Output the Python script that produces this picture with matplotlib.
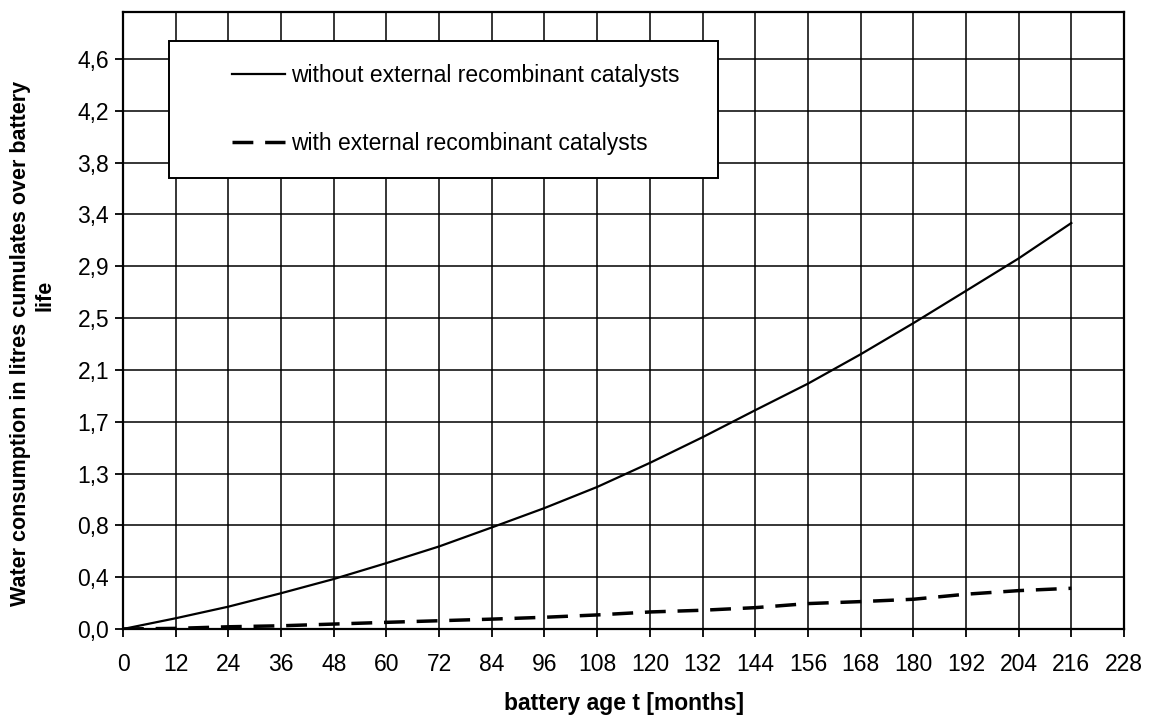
import matplotlib
matplotlib.use("Agg")
import matplotlib.pyplot as plt
from matplotlib.patches import Rectangle

plt.rcParams['font.family'] = ['Liberation Sans', 'DejaVu Sans']

# ---- data ----
months = [0, 12, 24, 36, 48, 60, 72, 84, 96, 108, 120, 132, 144, 156, 168, 180, 192, 204, 216]
without_cat = [0.0, 0.087, 0.181, 0.29, 0.405, 0.534, 0.669, 0.823, 0.98, 1.151, 1.346,
               1.554, 1.773, 1.988, 2.226, 2.478, 2.74, 3.003, 3.29]
with_cat = [0.0, 0.005, 0.018, 0.026, 0.04, 0.054, 0.067, 0.08, 0.095, 0.114, 0.138,
            0.152, 0.173, 0.206, 0.222, 0.241, 0.282, 0.311, 0.33]
x_ticks = list(range(0, 229, 12))
y_ticks = [0.0, 0.42, 0.84, 1.26, 1.68, 2.10, 2.52, 2.94, 3.36, 3.78, 4.20, 4.62]
y_ticklabels = ["0,0", "0,4", "0,8", "1,3", "1,7", "2,1", "2,5", "2,9", "3,4", "3,8", "4,2", "4,6"]
label_without = "without external recombinant catalysts"
label_with = "with external recombinant catalysts"
xlabel = "battery age t [months]"
ylabel_line1 = "Water consumption in litres cumulates over battery"
ylabel_line2 = "life"

fig = plt.figure(figsize=(11.5, 7.17), dpi=100)
ax = fig.add_axes([123/1150, 1 - 629/717, (1124-123)/1150, (629-12)/717])

ax.plot(months, without_cat, color='black', lw=1.6, zorder=3, label=label_without)
ax.plot(months, with_cat, color='black', lw=2.5, dashes=(6, 3.4), zorder=3, label=label_with)

ax.set_xlim(0, 228)
ax.set_ylim(0, 5.0)
ax.set_xticks(x_ticks)
ax.set_xticklabels([str(v) for v in x_ticks])
ax.set_yticks(y_ticks)
ax.set_yticklabels(y_ticklabels)
ax.tick_params(axis='both', direction='out', length=6, width=1.3, colors='black',
               labelsize=16.5)
ax.tick_params(axis='x', pad=11)
ax.tick_params(axis='y', pad=4)
ax.grid(True, color='black', lw=1.1, zorder=1)
ax.set_axisbelow(True)
for s in ax.spines.values():
    s.set_linewidth(1.6)
    s.set_color('black')

ax.set_xlabel(xlabel, fontsize=16.5, fontweight='bold', labelpad=12)

fig.text(21/1150, 1 - 343/717, ylabel_line1, rotation=90, ha='center', va='center',
         fontsize=15.5, fontweight='bold')
fig.text(45/1150, 1 - 295/717, ylabel_line2, rotation=90, ha='center', va='center',
         fontsize=15.5, fontweight='bold')

# legend box
box = Rectangle(((169-123)/1001, (629-178)/617), (718-169)/1001, (178-41)/617,
                transform=ax.transAxes, facecolor='white', edgecolor='black', lw=1.4, zorder=4)
ax.add_patch(box)
leg = ax.legend(loc='upper left', bbox_to_anchor=((232-123)/1001, (629-64)/617),
                frameon=False, fontsize=16.5, handlelength=2.3, handletextpad=0.26,
                labelspacing=1.95, borderpad=0, borderaxespad=0)
leg.set_zorder(5)

fig.savefig("out.png", dpi=100, facecolor='white')
